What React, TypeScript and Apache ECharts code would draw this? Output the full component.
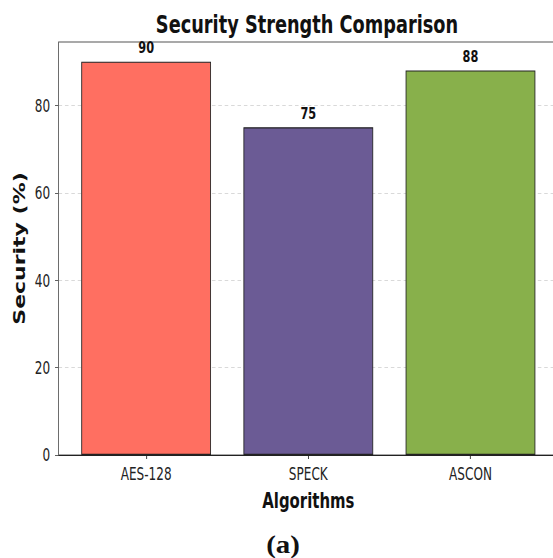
import React, { useEffect, useRef } from 'react';
import * as echarts from 'echarts';

// ---- data ----
const categories: string[] = ['AES-128', 'SPECK', 'ASCON'];
const security: number[] = [90, 75, 88];
const yTicks: number[] = [0, 20, 40, 60, 80];
const xPositions: number[] = [0, 1, 2];

// ---- styles ----
const barColors: string[] = ['#FF6F61', '#6B5B95', '#88B04B'];
const SX = 0.71; // horizontal compression of the original figure
const W = 820;
const H = 558;
const FONT = 'DejaVu Sans';

export default function App() {
  const ref = useRef<HTMLDivElement>(null);
  useEffect(() => {
    if (!ref.current) return;
    const chart = echarts.init(ref.current, null, { renderer: 'svg', width: W, height: H });
    chart.setOption({
      animation: false,
      backgroundColor: '#ffffff',
      grid: {
        left: 82.5,
        right: 34,
        top: 42,
        bottom: 103,
        containLabel: false,
        show: true,
        borderColor: '#555',
        borderWidth: 1.2,
        backgroundColor: 'transparent',
      },
      xAxis: {
        type: 'value',
        min: -0.54,
        max: 2.54,
        position: 'bottom',
        splitLine: { show: false },
        minorSplitLine: { show: false },
        axisLine: { show: true, onZero: false, lineStyle: { color: '#222', width: 1.2 } },
        axisTick: { show: true, length: 4, customValues: xPositions, lineStyle: { color: '#222', width: 1 } },
        axisLabel: {
          customValues: xPositions,
          formatter: (v: number) => categories[Math.round(v)] ?? '',
          margin: 10,
          fontFamily: FONT,
          fontSize: 17,
          color: '#222',
        },
        name: 'Algorithms',
        nameLocation: 'middle',
        nameGap: 35.5,
        nameTextStyle: { fontFamily: FONT, fontWeight: 'bold', fontSize: 21, color: '#111' },
      },
      yAxis: {
        type: 'value',
        min: 0,
        max: 94.5,
        interval: 20,
        axisLine: { show: false, onZero: false },
        axisTick: { show: true, length: 5, customValues: yTicks, lineStyle: { color: '#444' } },
        axisLabel: {
          customValues: yTicks,
          margin: 12,
          fontFamily: FONT,
          fontSize: 17,
          color: '#222',
        },
        splitLine: { show: true, lineStyle: { color: '#c8c8c8', type: [5, 4], width: 0.8 } },
        name: 'Security (%)',
        nameLocation: 'middle',
        nameRotate: 90,
        nameGap: 39,
        nameTextStyle: { fontFamily: FONT, fontWeight: 'bold', fontSize: 22, color: '#111' },
      },
      series: [
        {
          type: 'bar',
          barWidth: '80%',
          data: security.map((v, i) => ({
            value: [xPositions[i], v],
            itemStyle: { color: barColors[i], borderColor: '#222', borderWidth: 1.2 },
          })),
          label: {
            show: true,
            position: 'top',
            distance: 6,
            formatter: (p: any) => String(p.value[1]),
            fontFamily: FONT,
            fontWeight: 'bold',
            fontSize: 16,
            color: '#111',
          },
        },
      ],
      graphic: [
        {
          type: 'text',
          x: 432.4,
          y: 24.5,
          style: {
            text: 'Security Strength Comparison',
            fontFamily: FONT,
            fontWeight: 'bold',
            fontSize: 25,
            fill: '#111',
            align: 'center',
            verticalAlign: 'middle',
          },
        },
        {
          type: 'text',
          x: 398.6,
          y: 545,
          scaleX: 1.63,
          style: {
            text: '(a)',
            fontFamily: 'Liberation Serif',
            fontWeight: 'bold',
            fontSize: 25,
            fill: '#111',
            align: 'center',
            verticalAlign: 'middle',
          },
        },
      ],
    });
    return () => chart.dispose();
  }, []);
  return (
    <div
      style={{
        position: 'fixed',
        left: 0,
        top: 0,
        width: 553,
        height: H,
        overflow: 'hidden',
        background: '#fff',
      }}
    >
      <div
        ref={ref}
        style={{
          width: W,
          height: H,
          transform: `scaleX(${SX})`,
          transformOrigin: '0 0',
        }}
      />
    </div>
  );
}
